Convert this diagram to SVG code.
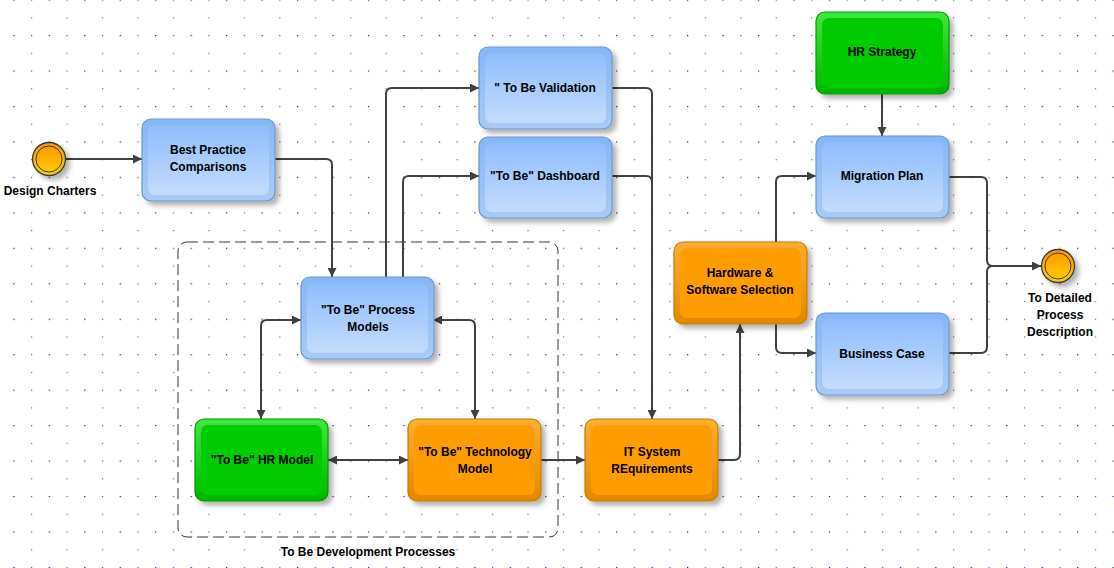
<svg xmlns="http://www.w3.org/2000/svg" width="1114" height="568" viewBox="0 0 1114 568">
<defs>
<pattern id="grid" x="13.3" y="35" width="35.46" height="35.46" patternUnits="userSpaceOnUse">
<rect x="0" y="0" width="1.2" height="1.2" fill="#1a1a8a"/>
<rect x="17.73" y="0" width="1.2" height="1.2" fill="#5a5aa8"/>
<rect x="17.73" y="17.73" width="1.2" height="1.2" fill="#6a6ab0"/>
</pattern>
<filter id="sh" x="-20%" y="-20%" width="150%" height="150%">
<feDropShadow dx="4" dy="4" stdDeviation="2.5" flood-color="#000" flood-opacity="0.3"/>
</filter>
<linearGradient id="bOut" x1="0" y1="0" x2="0" y2="1"><stop offset="0" stop-color="#86b6f6"/><stop offset="1" stop-color="#a9cbf4"/></linearGradient>
<linearGradient id="bIn" x1="0" y1="0" x2="0" y2="1"><stop offset="0" stop-color="#8ebdfc"/><stop offset="1" stop-color="#c3dcfd"/></linearGradient>
<linearGradient id="gOut" x1="0" y1="0" x2="0" y2="1"><stop offset="0" stop-color="#3ee83e"/><stop offset="1" stop-color="#00b400"/></linearGradient>
<linearGradient id="oOut" x1="0" y1="0" x2="0" y2="1"><stop offset="0" stop-color="#ffae30"/><stop offset="1" stop-color="#e08800"/></linearGradient>
<linearGradient id="circ" x1="0" y1="0" x2="0" y2="1"><stop offset="0" stop-color="#ff9500"/><stop offset="1" stop-color="#ffd000"/></linearGradient>
<marker id="ar" viewBox="0 0 10 10" refX="10" refY="5" markerWidth="9" markerHeight="9" markerUnits="userSpaceOnUse" orient="auto-start-reverse">
<path d="M0,0 L10,5 L0,10 z" fill="#404040"/>
</marker>
<style>
.bg{fill:url(#grid)}
.c{fill:none;stroke:#404040;stroke-width:2}
.a{marker-end:url(#ar)}
.aa{marker-start:url(#ar);marker-end:url(#ar)}
.bo{fill:url(#bOut);stroke:#6b95cf;stroke-width:1.2}
.bi{fill:url(#bIn)}
.go{fill:url(#gOut);stroke:#009a00;stroke-width:1.2}
.gi{fill:#00cc00}
.oo{fill:url(#oOut);stroke:#c87a00;stroke-width:1.2}
.oi{fill:#ff9c00}
text{font-family:"Liberation Sans",Arial,sans-serif;font-weight:bold;font-size:12px;fill:#000;text-anchor:middle}
.ev{fill:url(#circ);stroke:#3a3a3a;stroke-width:1.3}
.evi{fill:none;stroke:#3a3a3a;stroke-width:1}
</style>
</defs>
<rect width="1114" height="568" fill="#fff"/>
<rect width="1114" height="568" class="bg"/>

<g id="group-dev">
<rect x="178" y="242" width="380" height="295" rx="9" fill="none" stroke="#333" stroke-width="1" stroke-dasharray="11,5"/>
<text x="368" y="556">To Be Development Processes</text>
</g>

<g id="connectors">
<path class="c a" d="M66,159 H142"/>
<path class="c a" d="M275,159 H326 Q332,159 332,165 V277"/>
<path class="c a" d="M386,277 V94 Q386,88 392,88 H479"/>
<path class="c a" d="M403,277 V182 Q403,176 409,176 H479"/>
<path class="c a" d="M612,88 H646 Q652,88 652,94 V419"/>
<path class="c" d="M612,176 H646 Q652,176 652,182 V400"/>
<path class="c aa" d="M301,320 H267 Q261,320 261,326 V419"/>
<path class="c aa" d="M433,320 H469 Q475,320 475,326 V419"/>
<path class="c aa" d="M328,460 H408"/>
<path class="c a" d="M541,460 H585"/>
<path class="c a" d="M717,460 H734 Q740,460 740,454 V324"/>
<path class="c a" d="M776,242 V182 Q776,176 782,176 H816"/>
<path class="c a" d="M776,324 V347 Q776,353 782,353 H816"/>
<path class="c a" d="M882,93 V136"/>
<path class="c a" d="M949,177 H981 Q987,177 987,183 V260 Q987,266 993,266 H1041"/>
<path class="c" d="M949,353 H981 Q987,353 987,347 V272 Q987,266 993,266"/>
</g>

<g id="design-charters">
<circle cx="49" cy="159" r="16.5" class="ev" filter="url(#sh)"/>
<circle cx="49" cy="159" r="13" class="evi"/>
<text x="50" y="195">Design Charters</text>
</g>

<g id="best-practice">
<rect x="142" y="119" width="133" height="82" rx="9" class="bo" filter="url(#sh)"/>
<rect x="148" y="125" width="121" height="70" rx="7" class="bi"/>
<text x="208" y="154">Best Practice</text>
<text x="208" y="171">Comparisons</text>
</g>

<g id="validation">
<rect x="479" y="47" width="133" height="82" rx="9" class="bo" filter="url(#sh)"/>
<rect x="485" y="53" width="121" height="70" rx="7" class="bi"/>
<text x="545" y="92">" To Be Validation</text>
</g>

<g id="dashboard">
<rect x="479" y="137" width="133" height="81" rx="9" class="bo" filter="url(#sh)"/>
<rect x="485" y="143" width="121" height="69" rx="7" class="bi"/>
<text x="545" y="180">"To Be" Dashboard</text>
</g>

<g id="process-models">
<rect x="301" y="277" width="133" height="82" rx="9" class="bo" filter="url(#sh)"/>
<rect x="307" y="283" width="121" height="70" rx="7" class="bi"/>
<text x="368" y="314">"To Be" Process</text>
<text x="368" y="331">Models</text>
</g>

<g id="hr-model">
<rect x="195" y="419" width="133" height="82" rx="9" class="go" filter="url(#sh)"/>
<rect x="201" y="425" width="121" height="70" rx="7" class="gi"/>
<text x="262" y="464">"To Be" HR Model</text>
</g>

<g id="technology-model">
<rect x="408" y="419" width="133" height="82" rx="9" class="oo" filter="url(#sh)"/>
<rect x="414" y="425" width="121" height="70" rx="7" class="oi"/>
<text x="475" y="456">"To Be" Technology</text>
<text x="475" y="473">Model</text>
</g>

<g id="it-system">
<rect x="585" y="419" width="133" height="82" rx="9" class="oo" filter="url(#sh)"/>
<rect x="591" y="425" width="121" height="70" rx="7" class="oi"/>
<text x="652" y="456">IT System</text>
<text x="652" y="473">REquirements</text>
</g>

<g id="hardware">
<rect x="674" y="242" width="133" height="82" rx="9" class="oo" filter="url(#sh)"/>
<rect x="680" y="248" width="121" height="70" rx="7" class="oi"/>
<text x="740" y="277">Hardware &amp;</text>
<text x="740" y="294">Software Selection</text>
</g>

<g id="hr-strategy">
<rect x="816" y="12" width="133" height="82" rx="9" class="go" filter="url(#sh)"/>
<rect x="822" y="18" width="121" height="70" rx="7" class="gi"/>
<text x="882" y="56">HR Strategy</text>
</g>

<g id="migration-plan">
<rect x="816" y="136" width="133" height="82" rx="9" class="bo" filter="url(#sh)"/>
<rect x="822" y="142" width="121" height="70" rx="7" class="bi"/>
<text x="882" y="180">Migration Plan</text>
</g>

<g id="business-case">
<rect x="816" y="313" width="133" height="82" rx="9" class="bo" filter="url(#sh)"/>
<rect x="822" y="319" width="121" height="70" rx="7" class="bi"/>
<text x="882" y="358">Business Case</text>
</g>

<g id="end-event">
<circle cx="1058" cy="266" r="16.5" class="ev" filter="url(#sh)"/>
<circle cx="1058" cy="266" r="13" class="evi"/>
<text x="1060" y="302">To Detailed</text>
<text x="1060" y="319">Process</text>
<text x="1060" y="336">Description</text>
</g>
</svg>
